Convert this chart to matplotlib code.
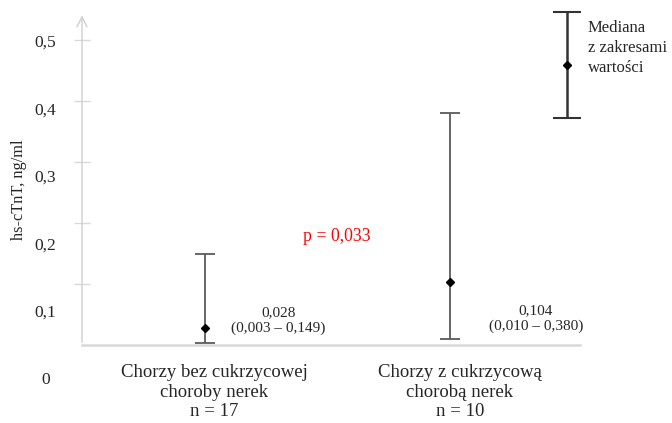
import numpy as np
import matplotlib.pyplot as plt

plt.rcParams['font.family'] = ['Liberation Serif', 'DejaVu Serif']

# hs-cTnT values per group: median with min-max range
groups = ['Chorzy bez cukrzycowej\nchoroby nerek\nn = 17',
          'Chorzy z cukrzycową\nchorobą nerek\nn = 10']
medians = [0.028, 0.104]
lows = [0.003, 0.010]
highs = [0.149, 0.380]
value_labels = ['0,028\n(0,003 – 0,149)', '0,104\n(0,010 – 0,380)']
p_text = 'p = 0,033'
ytick_vals = [0.1, 0.2, 0.3, 0.4, 0.5]
ytick_labels = ['0', '0,1', '0,2', '0,3', '0,4', '0,5']

fig = plt.figure(figsize=(6.72, 4.23), dpi=100)
ax = fig.add_axes([0.122, 0.184, 0.741, 0.788])
x = np.arange(1, len(groups) + 1)
ax.set_xlim(0.5, 2.53)
ax.set_ylim(0, 0.546)

med = np.array(medians)
err = [med - np.array(lows), np.array(highs) - med]
ax.errorbar(x, med, yerr=err, fmt='D', ms=4, mfc='black', mec='black',
            ecolor='#5a5a5a', elinewidth=1.3, capsize=7, capthick=1.3)

# value annotations next to each bar
ax.text(1.3, 0.04, value_labels[0], ha='center', va='center', fontsize=11, color='#262626')
ax.text(2.35, 0.043, value_labels[1], ha='center', va='center', fontsize=11, color='#262626')
ax.text(1.54, 0.178, p_text, ha='center', va='center', fontsize=12.8, color='#ff0000')

# axes styling
for s in ['top', 'right', 'left']:
    ax.spines[s].set_visible(False)
ax.spines['bottom'].set_color('#d9d9d9')
ax.spines['bottom'].set_linewidth(1.8)
ax.annotate('', xy=(0, 0.998), xytext=(0, 0), xycoords='axes fraction',
            arrowprops=dict(arrowstyle='->', color='#cfcfcf', lw=1, mutation_scale=18))
ax.set_yticks(ytick_vals)
ax.tick_params(axis='y', direction='inout', length=11, width=1, color='#d9d9d9', labelleft=False)
ax.set_xticks([])

# y tick labels sit in their own column to the left of the axis
label_pos = np.linspace(-0.057, 0.495, len(ytick_labels))
for lab, yp in zip(ytick_labels, label_pos):
    ax.text(-0.073, yp, lab, transform=ax.get_yaxis_transform(), ha='center', va='center',
            fontsize=12.5, color='#262626', clip_on=False)
ax.text(-0.127, 0.465, 'hs-cTnT, ng/ml', transform=ax.transAxes, rotation=90,
        ha='center', va='center', fontsize=11.8, color='#262626')

# group labels under the axis
for xi, g in zip(x, groups):
    ax.text(xi + 0.04, -0.031, g, ha='center', va='top', fontsize=13.5,
            color='#262626', linespacing=1.2, clip_on=False)

# legend key on the right
ax.errorbar([2.476], [0.459], yerr=[[0.087], [0.087]], fmt='D', ms=4, mfc='black', mec='black',
            ecolor='#333333', elinewidth=1.8, capsize=10, capthick=1.5, clip_on=False)
ax.text(2.561, 0.532, 'Mediana\nz zakresami\nwartości', ha='left', va='top', fontsize=12,
        color='#262626', clip_on=False, linespacing=1.3)

fig.savefig('out.png', dpi=100)
